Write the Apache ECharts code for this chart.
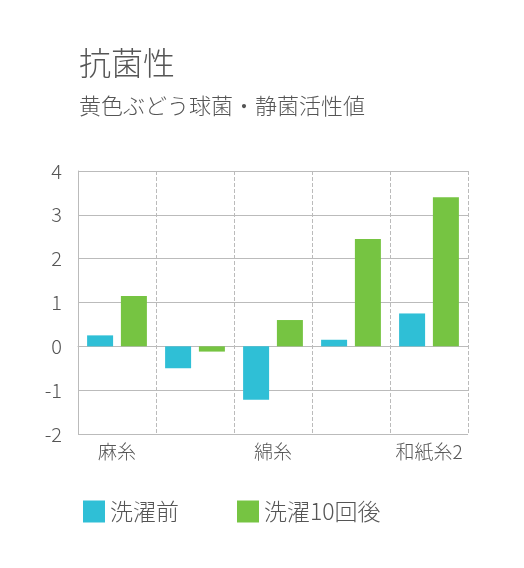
<!DOCTYPE html><html><head><meta charset="utf-8"><script src="https://cdn.jsdelivr.net/npm/echarts@6/dist/echarts.min.js"></script></head><body style="margin:0"><div id="c" style="width:524px;height:568px"></div><script>
const categories=['麻糸','絹糸','綿糸','和紙糸1','和紙糸2'];
const before=[0.25,-0.5,-1.22,0.15,0.75];
const after10=[1.15,-0.12,0.6,2.45,3.4];
const seriesNames=['洗濯前','洗濯10回後'];
const F='"Noto Sans CJK JP"';
const ch=echarts.init(document.getElementById('c'));
ch.setOption({
 title:{text:'抗菌性',subtext:'黄色ぶどう球菌・静菌活性値',left:74,top:42,itemGap:16,
  textStyle:{fontFamily:F,fontSize:32,fontWeight:300,color:'#555'},
  subtextStyle:{fontFamily:F,fontSize:22,fontWeight:300,color:'#555'}},
 legend:{bottom:40,left:78,itemWidth:22,itemHeight:22,itemGap:58,icon:'rect',
  textStyle:{fontFamily:F,fontSize:23,fontWeight:300,color:'#555'}},
 grid:{left:78,right:56,top:171,bottom:134},
 xAxis:{type:'category',data:categories,axisTick:{show:false},
  axisLine:{lineStyle:{color:'#bbb'}},
  splitLine:{show:true,interval:0,lineStyle:{type:'dashed',color:'#bbb'}},
  axisLabel:{fontFamily:F,fontSize:19,fontWeight:300,color:'#555',margin:8}},
 yAxis:{type:'value',min:-2,max:4,interval:1,
  axisLine:{show:true,lineStyle:{color:'#bbb'}},axisTick:{show:false},
  splitLine:{lineStyle:{color:'#bbb'}},
  axisLabel:{fontFamily:F,fontSize:20,fontWeight:300,color:'#555',margin:16}},
 series:[
  {name:seriesNames[0],type:'bar',data:before,barWidth:26,barGap:'30%',itemStyle:{color:'#2fbfd6'}},
  {name:seriesNames[1],type:'bar',data:after10,barWidth:26,itemStyle:{color:'#76c442'}}]
});
</script></body></html>
